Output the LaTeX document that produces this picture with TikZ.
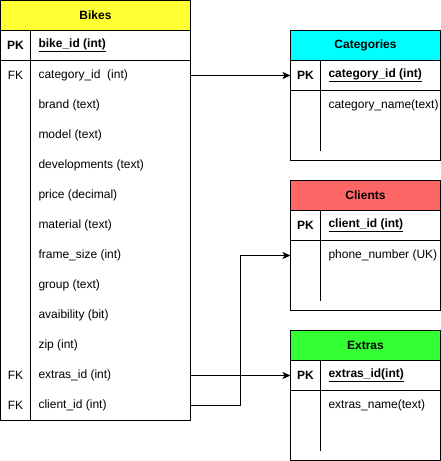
\documentclass[tikz,border=0pt]{standalone}
\usepackage{fontspec}
\setmainfont{Liberation Sans}
\usepackage{xcolor}
\usepackage{tikz}
\usetikzlibrary{arrows.meta,positioning}
\definecolor{bikeyel}{HTML}{FFFF33}
\definecolor{catcyan}{HTML}{00FFFF}
\definecolor{clired}{HTML}{FF6666}
\definecolor{extgreen}{HTML}{33FF33}
\newcommand{\pkfield}[1]{\textbf{\underline{#1}}}

\begin{document}
\begin{tikzpicture}[
  x=1pt, y=1pt, line width=1pt,
  font=\fontsize{12}{14}\selectfont, >={Stealth[length=8pt,width=7pt,inset=2pt]},
  tbl/.style={draw,anchor=north west,inner sep=0pt,outer sep=0pt},
  hdr/.style={draw,anchor=north west,minimum height=30pt,inner sep=0pt,outer sep=0pt,font=\fontsize{12}{14}\selectfont\bfseries},
  key/.style={minimum width=30pt,minimum height=30pt,inner sep=0pt,outer sep=0pt},
  field/.style={inner sep=0pt,outer sep=0pt}]
  \useasboundingbox (-0.5,0.5) rectangle (440.5,-460.5);
  % Bikes
  \node[tbl,minimum width=190pt,minimum height=420pt] (bikes) at (0,0) {};
  \node[hdr,fill=bikeyel,minimum width=190pt] (bikeshd) at (bikes.north west) {Bikes};
  \node[key,anchor=north west] (bk0) at (bikeshd.south west) {\textbf{PK}};
  \node[key,below=0pt of bk0] (bk1) {FK};
  \node[key,below=0pt of bk1] (bk2) {};
  \node[key,below=0pt of bk2] (bk3) {};
  \node[key,below=0pt of bk3] (bk4) {};
  \node[key,below=0pt of bk4] (bk5) {};
  \node[key,below=0pt of bk5] (bk6) {};
  \node[key,below=0pt of bk6] (bk7) {};
  \node[key,below=0pt of bk7] (bk8) {};
  \node[key,below=0pt of bk8] (bk9) {};
  \node[key,below=0pt of bk9] (bk10) {};
  \node[key,below=0pt of bk10] (bk11) {FK};
  \node[key,below=0pt of bk11] (bk12) {FK};
  \draw (bikes.west |- bk0.south) -- (bikes.east |- bk0.south);
  \draw (bk0.north east) -- (bk12.south east);
  \node[field,right=8pt of bk0] (bf0) {\pkfield{bike\_id (int)}};
  \node[field,right=8pt of bk1] (bf1) {category\_id\ \ (int)};
  \node[field,right=8pt of bk2] (bf2) {brand (text)};
  \node[field,right=8pt of bk3] (bf3) {model (text)};
  \node[field,right=8pt of bk4] (bf4) {developments (text)};
  \node[field,right=8pt of bk5] (bf5) {price (decimal)};
  \node[field,right=8pt of bk6] (bf6) {material (text)};
  \node[field,right=8pt of bk7] (bf7) {frame\_size (int)};
  \node[field,right=8pt of bk8] (bf8) {group (text)};
  \node[field,right=8pt of bk9] (bf9) {avaibility (bit)};
  \node[field,right=8pt of bk10] (bf10) {zip (int)};
  \node[field,right=8pt of bk11] (bf11) {extras\_id (int)};
  \node[field,right=8pt of bk12] (bf12) {client\_id (int)};
  % Categories
  \node[tbl,minimum width=150pt,minimum height=130pt] (cats) at (290,-30) {};
  \node[hdr,fill=catcyan,minimum width=150pt] (catshd) at (cats.north west) {Categories};
  \node[key,anchor=north west] (ck0) at (catshd.south west) {\textbf{PK}};
  \node[key,below=0pt of ck0] (ck1) {};
  \node[key,below=0pt of ck1] (ck2) {};
  \draw (cats.west |- ck0.south) -- (cats.east |- ck0.south);
  \draw (ck0.north east) -- (ck2.south east);
  \node[field,right=8pt of ck0] (cf0) {\pkfield{category\_id (int)}};
  \node[field,right=8pt of ck1] (cf1) {category\_name(text)};
  % Clients
  \node[tbl,minimum width=150pt,minimum height=130pt] (clis) at (290,-180) {};
  \node[hdr,fill=clired,minimum width=150pt] (clishd) at (clis.north west) {Clients};
  \node[key,anchor=north west] (lk0) at (clishd.south west) {\textbf{PK}};
  \node[key,below=0pt of lk0] (lk1) {};
  \node[key,below=0pt of lk1] (lk2) {};
  \draw (clis.west |- lk0.south) -- (clis.east |- lk0.south);
  \draw (lk0.north east) -- (lk2.south east);
  \node[field,right=8pt of lk0] (lf0) {\pkfield{client\_id (int)}};
  \node[field,right=8pt of lk1] (lf1) {phone\_number (UK)};
  % Extras
  \node[tbl,minimum width=150pt,minimum height=130pt] (exts) at (290,-330) {};
  \node[hdr,fill=extgreen,minimum width=150pt] (extshd) at (exts.north west) {Extras};
  \node[key,anchor=north west] (ek0) at (extshd.south west) {\textbf{PK}};
  \node[key,below=0pt of ek0] (ek1) {};
  \node[key,below=0pt of ek1] (ek2) {};
  \draw (exts.west |- ek0.south) -- (exts.east |- ek0.south);
  \draw (ek0.north east) -- (ek2.south east);
  \node[field,right=8pt of ek0] (ef0) {\pkfield{extras\_id(int)}};
  \node[field,right=8pt of ek1] (ef1) {extras\_name(text)};
  % relations
  \draw[->] (bikes.east |- bk1) -- (ck0.west);
  \draw[->] (bikes.east |- bk11) -- (ek0.west);
  \draw[->] (bikes.east |- bk12) -- ++(50pt,0) |- (lk1.west);
\end{tikzpicture}
\end{document}
